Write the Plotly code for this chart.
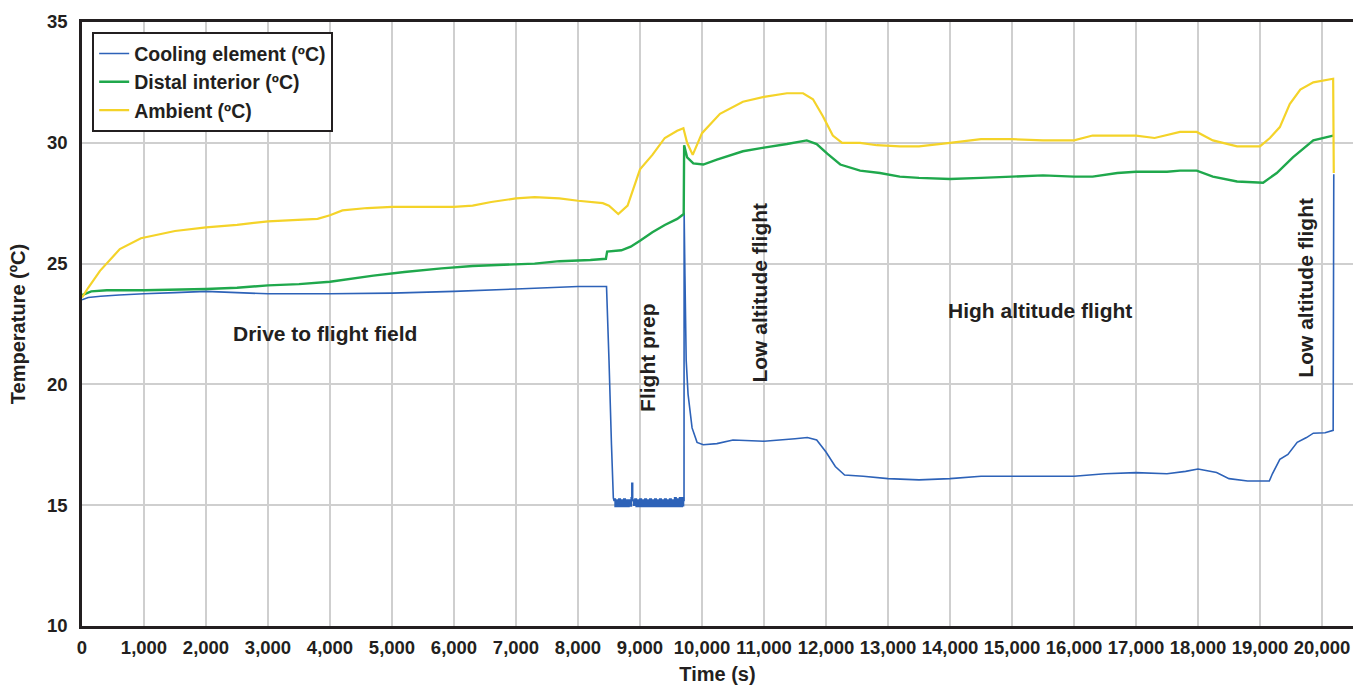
import plotly.graph_objects as go

# ---------------- data ----------------
# cooling element, main trace (flight-prep noise band held separately below)
cool_t = [0, 100, 300, 600, 1000, 1500, 2000, 2500, 3000, 4000, 5000, 6000, 7000, 7500, 8000, 8460,
          8500, 8540, 8570, 8580,
          9700, 9710, 9712, 9725, 9745, 9775, 9840, 9920, 10020, 10240, 10500, 11000, 11500, 11700, 11850,
          12000, 12150, 12300, 12600, 13000, 13500, 14000, 14500, 15000, 15500, 16000, 16500, 17000,
          17500, 17800, 18000, 18300, 18500, 18800, 19000, 19150, 19200, 19320, 19450, 19600, 19750,
          19860, 20050, 20180, 20190]
cool_v = [23.5, 23.6, 23.65, 23.7, 23.75, 23.8, 23.85, 23.8, 23.75, 23.75, 23.78, 23.85, 23.95, 24.0, 24.05, 24.05,
          21.0, 17.5, 15.3, 15.2,
          15.2, 15.2, 27.1, 24.5, 21.0, 19.6, 18.2, 17.6, 17.5, 17.55, 17.7, 17.65, 17.75, 17.8, 17.7,
          17.2, 16.6, 16.25, 16.2, 16.1, 16.05, 16.1, 16.2, 16.2, 16.2, 16.2, 16.3, 16.35,
          16.3, 16.4, 16.5, 16.35, 16.1, 16.0, 16.0, 16.0, 16.3, 16.9, 17.1, 17.6, 17.8,
          17.98, 18.0, 18.1, 28.7]

# cooling element, noisy readings during flight prep
band_t = [8580, 8600, 8620, 8640, 8660, 8680, 8700, 8720, 8740, 8760, 8780, 8800, 8820, 8840, 8860, 8870,
          8880, 8900, 8920, 8940, 8960, 8980, 9000, 9020, 9040, 9060, 9080, 9100, 9120, 9140, 9160, 9180,
          9200, 9220, 9240, 9260, 9280, 9300, 9320, 9340, 9360, 9380, 9400, 9420, 9440, 9460, 9480, 9500,
          9520, 9540, 9560, 9580, 9600, 9620, 9640, 9660, 9680, 9700]
band_v = [15.25, 14.95, 15.2, 14.95, 15.25, 14.95, 15.2, 14.95, 15.25, 14.95, 15.2, 14.95, 15.2, 14.97, 15.3, 15.9,
          15.2, 15.0, 15.25, 14.95, 15.2, 14.95, 15.25, 14.95, 15.2, 14.95, 15.25, 14.95, 15.2, 14.95, 15.25, 14.95,
          15.2, 14.95, 15.25, 14.95, 15.2, 14.95, 15.25, 14.95, 15.2, 14.95, 15.25, 14.95, 15.2, 14.95, 15.25, 14.95,
          15.2, 14.95, 15.3, 14.95, 15.25, 14.95, 15.3, 14.95, 15.3, 14.95]

distal_t = [0, 150, 400, 1000, 2000, 2500, 3000, 3500, 4000, 4700, 5200, 5800, 6300, 6800, 7300, 7700, 8200,
            8450, 8470, 8700, 8850, 9000, 9200, 9400, 9600, 9705, 9712, 9760, 9860, 10020, 10240, 10660, 11000,
            11370, 11690, 11850, 12020, 12230, 12550, 12870, 13190, 13500, 14000, 14500, 15000, 15500, 16000,
            16300, 16700, 17000, 17500, 17710, 17980, 18240, 18630, 19050, 19270, 19530, 19860, 20180]
distal_v = [23.7, 23.85, 23.9, 23.9, 23.95, 24.0, 24.1, 24.15, 24.25, 24.5, 24.65, 24.8, 24.9, 24.95, 25.0, 25.1, 25.15,
            25.2, 25.5, 25.55, 25.7, 25.95, 26.3, 26.6, 26.85, 27.05, 29.9, 29.4, 29.15, 29.1, 29.3, 29.65, 29.8,
            29.95, 30.1, 29.95, 29.55, 29.1, 28.85, 28.75, 28.6, 28.55, 28.5, 28.55, 28.6, 28.65, 28.6,
            28.6, 28.75, 28.8, 28.8, 28.85, 28.85, 28.6, 28.4, 28.35, 28.75, 29.4, 30.1, 30.3]

amb_t = [0, 100, 290, 610, 950, 1500, 2000, 2500, 3000, 3800, 4000, 4200, 4600, 5000, 6000, 6300, 6600, 7000,
         7300, 7700, 8000, 8400, 8500, 8650, 8800, 9000, 9200, 9400, 9600, 9700, 9760, 9850, 10000, 10290,
         10660, 11000, 11370, 11630, 11790, 11950, 12110, 12260, 12550, 12820, 13190, 13500, 14000, 14500,
         15000, 15500, 16000, 16300, 17000, 17300, 17710, 17980, 18240, 18630, 19000, 19160, 19320, 19480,
         19650, 19860, 20180, 20190]
amb_v = [23.6, 24.0, 24.7, 25.6, 26.05, 26.35, 26.5, 26.6, 26.75, 26.85, 27.0, 27.2, 27.3, 27.35, 27.35, 27.4, 27.55, 27.7,
         27.75, 27.7, 27.6, 27.5, 27.4, 27.05, 27.4, 28.9, 29.5, 30.2, 30.5, 30.6, 30.0, 29.5, 30.4, 31.2,
         31.7, 31.9, 32.05, 32.05, 31.8, 31.1, 30.3, 30.0, 30.0, 29.9, 29.85, 29.85, 30.0, 30.15,
         30.15, 30.1, 30.1, 30.3, 30.3, 30.2, 30.45, 30.45, 30.1, 29.85, 29.85, 30.2, 30.65, 31.6,
         32.2, 32.5, 32.65, 28.75]

series_names = ["Cooling element (ºC)", "Distal interior (ºC)", "Ambient (ºC)"]
x_ticks = [0, 1000, 2000, 3000, 4000, 5000, 6000, 7000, 8000, 9000, 10000, 11000, 12000, 13000,
           14000, 15000, 16000, 17000, 18000, 19000, 20000]
x_tick_text = ["0", "1,000", "2,000", "3,000", "4,000", "5,000", "6,000", "7,000", "8,000", "9,000",
               "10,000", "11,000", "12,000", "13,000", "14,000", "15,000", "16,000", "17,000",
               "18,000", "19,000", "20,000"]
y_ticks = [10, 15, 20, 25, 30, 35]

phase_labels = ["Drive to flight field", "Flight prep", "Low altitude flight", "High altitude flight",
                "Low altitude flight"]
phase_x = [3920, 9130, 10935, 15450, 19740]
phase_y = [22.1, 21.1, 23.8, 23.05, 24.0]
phase_angle = [0, -90, -90, 0, -90]

# ---------------- figure ----------------
FONT = "Liberation Sans, Arial, Helvetica, sans-serif"
INK = "#231f20"
BLUE, GREEN, YELLOW = "#2d62b8", "#1fa84c", "#f4d329"
fig = go.Figure()
fig.add_trace(go.Scatter(x=cool_t, y=cool_v, mode="lines", name="<b>%s</b>" % series_names[0],
                         legendgroup="cool", line=dict(color=BLUE, width=1.6, simplify=False)))
fig.add_trace(go.Scatter(x=band_t, y=band_v, mode="lines", name="<b>%s</b>" % series_names[0],
                         legendgroup="cool", showlegend=False,
                         line=dict(color=BLUE, width=1.8, shape="hv", simplify=False)))
fig.add_trace(go.Scatter(x=distal_t, y=distal_v, mode="lines", name="<b>%s</b>" % series_names[1],
                         line=dict(color=GREEN, width=2.4, simplify=False)))
fig.add_trace(go.Scatter(x=amb_t, y=amb_v, mode="lines", name="<b>%s</b>" % series_names[2],
                         line=dict(color=YELLOW, width=2.2, simplify=False)))

for txt, xx, yy, ang in zip(phase_labels, phase_x, phase_y, phase_angle):
    fig.add_annotation(x=xx, y=yy, text="<b>%s</b>" % txt, showarrow=False, textangle=ang,
                       font=dict(family=FONT, size=21, color=INK))

fig.update_layout(
    width=1353, height=685,
    margin=dict(l=82, r=0, t=22, b=59),
    paper_bgcolor="white", plot_bgcolor="white",
    font=dict(family=FONT, color=INK),
    showlegend=True,
    legend=dict(x=0.008, y=0.983, xanchor="left", yanchor="top",
                bgcolor="white", bordercolor=INK, borderwidth=2,
                font=dict(family=FONT, size=19.5, color=INK),
                itemwidth=30, tracegroupgap=0),
    xaxis=dict(range=[0, 20500], tickmode="array", tickvals=x_ticks, ticktext=["<b>%s</b>" % t for t in x_tick_text],
               showgrid=True, gridcolor="#cfcfcf", gridwidth=1.5, zeroline=False,
               showline=True, linecolor=INK, linewidth=2.5, mirror=True,
               ticks="", ticklabelstandoff=3,
               tickfont=dict(family=FONT, size=18.5, color=INK),
               title=dict(text="<b>Time (s)</b>", font=dict(family=FONT, size=20, color=INK), standoff=12)),
    yaxis=dict(range=[10, 35], tickmode="array", tickvals=y_ticks, ticktext=["<b>%d</b>" % v for v in y_ticks],
               showgrid=True, gridcolor="#cfcfcf", gridwidth=1.5, zeroline=False,
               showline=True, linecolor=INK, linewidth=2.5,
               ticks="", ticklabelstandoff=8,
               tickfont=dict(family=FONT, size=18.5, color=INK),
               title=dict(text="<b>Temperature (ºC)</b>", font=dict(family=FONT, size=20, color=INK), standoff=16)),
)

fig.write_html("out.html")
